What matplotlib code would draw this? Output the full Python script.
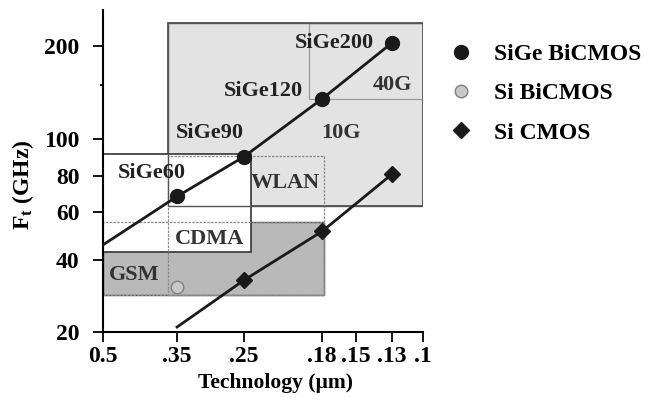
import numpy as np
import matplotlib
matplotlib.use("Agg")
import matplotlib.pyplot as plt
from matplotlib.patches import Rectangle
from matplotlib.lines import Line2D

plt.rcParams['font.family'] = ['Liberation Serif', 'DejaVu Serif']
plt.rcParams['font.weight'] = 'bold'
plt.rcParams['axes.labelweight'] = 'bold'
plt.rcParams['mathtext.fontset'] = 'custom'
plt.rcParams['mathtext.rm'] = 'Liberation Serif:bold'
plt.rcParams['mathtext.bf'] = 'Liberation Serif:bold'
plt.rcParams['mathtext.it'] = 'Liberation Serif:bold'

# technology nodes (um) and Ft values (GHz)
sige_node = [0.35, 0.25, 0.18, 0.13]
sige_ft = [68, 90, 135, 205]
sige_names = ["SiGe60", "SiGe90", "SiGe120", "SiGe200"]
sibi_node = [0.35]
sibi_ft = [31]
cmos_node = [0.25, 0.18, 0.13]
cmos_ft = [33, 51, 81]

# trend lines
sige_fit_node = [0.5, 0.35, 0.25, 0.18, 0.13]
sige_fit_ft = [45.5, 68, 90, 135, 205]
cmos_fit_node = [0.35, 0.25, 0.18, 0.13]
cmos_fit_ft = [21, 33, 51, 81]

# application regions: (node from, node to, Ft low, Ft high)
gsm = (0.5, 0.178, 28.5, 55)
cdma = (0.5, 0.243, 42.8, 91.4)
wlan = (0.365, 0.178, 28.5, 90.3)
tenG = (0.365, 0.1, 63, 237)
fortyG = (0.19, 0.1, 135, 237)

x_ticks = [0.5, 0.35, 0.25, 0.18, 0.15, 0.13, 0.1]
x_ticklabels = ["0.5", ".35", ".25", ".18", ".15", ".13", ".1"]
y_ticks = [20, 40, 60, 80, 100, 200]

# the printed axes are only roughly logarithmic, so follow their spacing
x_place = [0, 74, 141, 219, 253, 289, 320]
y_nodes = [20, 40, 60, 80, 100, 200, 260]
y_place = [0, 72, 120, 156, 193, 286, 322]


def x_fwd(v):
    v = np.clip(np.asarray(v, float), 1e-6, None)
    return np.interp(-np.log10(v), -np.log10(x_ticks), x_place)


def x_inv(p):
    return 10 ** -np.interp(p, x_place, -np.log10(x_ticks))


def y_fwd(v):
    v = np.clip(np.asarray(v, float), 1e-6, None)
    return np.interp(np.log10(v), np.log10(y_nodes), y_place)


def y_inv(p):
    return 10 ** np.interp(p, y_place, np.log10(y_nodes))


fig = plt.figure(figsize=(6.48, 4.05), dpi=100)
ax = fig.add_axes([0.159, 0.180, 0.494, 0.795])
ax.set_xscale('function', functions=(x_fwd, x_inv))
ax.set_yscale('function', functions=(y_fwd, y_inv))


def box(r, **kw):
    x0, x1, y0, y1 = r
    ax.add_patch(Rectangle((x0, y0), x1 - x0, y1 - y0, **kw))


# shaded regions
box(gsm, facecolor='#b9b9b9', edgecolor='#555555', lw=1.0, zorder=1)
box(tenG, facecolor='#e3e3e3', edgecolor='#444444', lw=1.2, zorder=1.1)
box(fortyG, facecolor='none', edgecolor='#9a9a9a', lw=0.9, zorder=1.2)
box(cdma, facecolor='white', edgecolor='#333333', lw=1.2, zorder=1.5)
# outlines showing through the white box
box(wlan, facecolor='none', edgecolor='#8a8a8a', lw=0.9, ls=(0, (2, 1)), zorder=1.6)
box(gsm, facecolor='none', edgecolor='#8a8a8a', lw=0.9, ls=(0, (2, 1)), zorder=1.6)
box(tenG, facecolor='none', edgecolor='#555555', lw=1.0, zorder=1.6)

# trend lines
ax.plot(sige_fit_node, sige_fit_ft, color='#1a1a1a', lw=2, zorder=3)
ax.plot(cmos_fit_node, cmos_fit_ft, color='#1a1a1a', lw=2, zorder=3)

# markers
ax.plot(sige_node, sige_ft, 'o', ms=10, color='#1a1a1a', zorder=4)
ax.plot(sibi_node, sibi_ft, 'o', ms=9, mfc='#c8c8c8', mec='#808080', mew=1, zorder=4)
ax.plot(cmos_node, cmos_ft, 'D', ms=8, color='#1a1a1a', zorder=4)

# point labels
offsets = [(6, 17), (0, 17), (-14, 6), (-13, 0)]
for n, f, name, off in zip(sige_node, sige_ft, sige_names, offsets):
    ax.annotate(name, (n, f), xytext=off, textcoords='offset points',
                ha='right', va='center', fontsize=16, color='#222222', zorder=5)

# region labels
region_txt = ["40G", "10G", "WLAN", "CDMA", "GSM"]
region_x = [0.13, 0.163, 0.21, 0.297, 0.43]
region_y = [150, 105, 76, 48, 34.6]
for t, x, y in zip(region_txt, region_x, region_y):
    ax.text(x, y, t, ha='center', va='center', fontsize=16, color='#333333', zorder=5)

# axes styling
for s in ['top', 'right']:
    ax.spines[s].set_visible(False)
for s in ['left', 'bottom']:
    ax.spines[s].set_linewidth(1.5)
ax.set_xticks(x_ticks)
ax.set_xticklabels(x_ticklabels)
ax.set_xticks([], minor=True)
ax.set_yticks(y_ticks)
ax.set_yticklabels([str(v) for v in y_ticks])
ax.set_yticks([150], minor=True)
ax.tick_params(axis='both', which='major', direction='out', length=7, width=1.3,
               labelsize=17, pad=3)
ax.tick_params(axis='y', which='major', pad=10)
ax.tick_params(axis='y', which='minor', length=2, width=1.3)

ax.set_xlim(0.5, 0.1)
ax.set_ylim(20, 260)
if ax.xaxis_inverted():
    ax.invert_xaxis()

ax.set_xlabel("Technology (µm)", fontsize=15.5, fontweight='bold')
ax.xaxis.set_label_coords(0.54, -0.127)
ax.set_ylabel(r"F$_{\mathregular{t}}$ (GHz)", fontsize=17, fontweight='bold')
ax.yaxis.set_label_coords(-0.21, 0.457)

handles = [
    Line2D([], [], ls='none', marker='o', ms=10, color='#1a1a1a'),
    Line2D([], [], ls='none', marker='o', ms=9, mfc='#c8c8c8', mec='#808080'),
    Line2D([], [], ls='none', marker='D', ms=8, color='#1a1a1a'),
]
fig.legend(handles, ["SiGe BiCMOS", "Si BiCMOS", "Si CMOS"], loc='upper left',
           bbox_to_anchor=(0.66, 0.945), frameon=False, handlelength=1.0,
           handletextpad=0.9, labelspacing=0.75, prop={'size': 17, 'weight': 'bold'})

fig.savefig("out.png", dpi=100)
